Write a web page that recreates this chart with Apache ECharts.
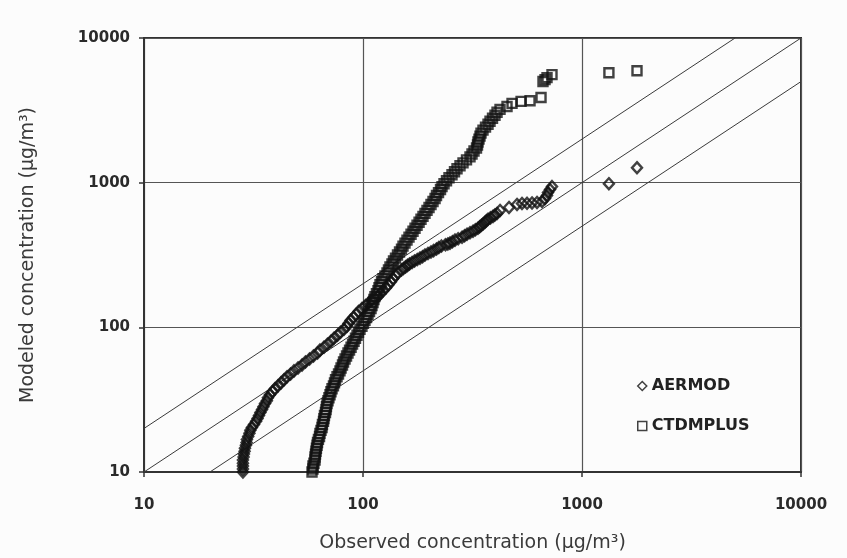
<!DOCTYPE html>
<html>
<head>
<meta charset="utf-8">
<script src="https://cdn.jsdelivr.net/npm/echarts@6/dist/echarts.min.js"></script>
<style>
  html, body { margin: 0; padding: 0; background: #fcfcfc; }
  #chart { width: 847px; height: 558px; }
</style>
</head>
<body>
<div id="chart"></div>
<script>
// Ranked observed vs ranked modeled concentrations (µg/m³), Q-Q style.
const aermod = [
  [28.3,10.0],[28.3,10.5],[28.3,11.0],[28.3,11.5],[28.3,12.1],[28.5,12.7],[28.6,13.3],[28.8,13.9],
  [28.9,14.6],[29.2,15.3],[29.4,16.0],[29.5,16.8],[29.9,17.6],[30.3,18.5],[30.6,19.4],[31.1,20.3],
  [31.8,21.3],[32.5,22.4],[33.0,23.4],[33.5,24.6],[34.0,25.8],[34.6,27.0],[35.1,28.3],[35.7,29.7],
  [36.4,31.1],[36.8,32.6],[37.6,34.2],[38.6,35.9],[39.6,37.6],[40.9,39.4],[42.2,41.3],[43.6,43.4],
  [45.0,45.5],[46.7,47.6],[48.4,50.0],[50.5,52.4],[52.7,54.9],[54.6,57.6],[57.0,60.4],[59.4,63.3],
  [62.0,66.4],[63.6,69.6],[66.3,72.9],[68.8,76.5],[71.4,80.2],[73.7,84.1],[76.5,88.2],[78.9,92.4],
  [81.9,96.9],[84.5,101.6],[85.8,106.5],[87.7,111.7],[90.5,117],[92.9,122.8],[95.4,128.8],[98.9,135],
  [102.7,141.6],[106.5,148.4],[110.5,155.6],[116.5,163],[120.2,171],[123.4,179],[127.4,188],[130.7,197],
  [134.2,206.6],[137.1,216.6],[140.7,227],[144.5,238],[149.9,249.6],[153,255],[156.4,261.7],[159.7,268],
  [163.1,274],[167.5,281],[171.9,287.6],[177,294],[182.1,301],[187,308],[191.9,316],[198,324],
  [204.4,331.5],[210,339],[216.6,347.5],[222,356],[228.2,364.4],[238,372],[244,377],[249.6,382],
  [256,391],[263.1,400.6],[272,409],[283.3,420],[291,430],[298.5,440.5],[308,451],[317.9,461.8],
  [326,472],[335,484],[341,496],[347.6,507.6],[354,520],[360.6,532],[366,545],[372.3,558],
  [382,571],[392.4,585],[400,598],[409.3,613],[422.4,643],[464.2,674],[505,707],[532.1,718],
  [561.1,720],[591.3,724],[623.1,730],[656.8,741],[678,777],[692.3,815],[699.6,854],[714.5,896],
  [729.5,939],[1327,984],[1783,1268]
];

const ctdmplus = [
  [58.5,10.0],[59.1,10.5],[59.1,11.0],[59.7,11.5],[60.4,12.1],[60.4,12.7],[60.7,13.3],[61.0,13.9],
  [61.3,14.6],[61.7,15.3],[62.0,16.0],[62.6,16.8],[63.3,17.6],[63.6,18.5],[64.3,19.4],[65.0,20.3],
  [65.3,21.3],[66.0,22.4],[66.3,23.4],[66.7,24.6],[67.4,25.8],[67.8,27.0],[68.1,28.3],[68.5,29.7],
  [69.2,31.1],[69.9,32.6],[70.7,34.2],[71.4,35.9],[72.2,37.6],[73.3,39.4],[74.1,41.3],[74.9,43.4],
  [76.1,45.5],[77.3,47.6],[78.5,50.0],[79.4,52.4],[80.6,54.9],[81.5,57.6],[82.8,60.4],[84.1,63.3],
  [85.4,66.4],[86.8,69.6],[88.2,72.9],[89.6,76.5],[91.0,80.2],[92.4,84.1],[93.9,88.2],[95.4,92.4],
  [96.9,96.9],[98.9,101.6],[100.5,106.5],[102.1,111.7],[103.8,117],[105.4,122.8],[107.1,128.8],[108.8,135],
  [109.9,141.6],[111.1,148.4],[112.2,155.6],[113.4,163],[115.2,171],[117.1,179],[118.3,188],[119.6,197],
  [121.5,206.6],[123.4,216.6],[126.0,227],[128.7,238],[130.7,249.6],[132.8,261.7],[135.6,274],[137.8,287.6],
  [140.7,301],[143.7,316],[146.8,331.5],[149.9,347.5],[152.3,364.4],[155.5,382],[158.8,400.6],[162.2,420],
  [165.7,440.5],[169.2,461.8],[172.8,484],[176.5,507.6],[180.3,532],[184.0,558],[187.9,585],[191.9,613],
  [196.0,643],[200.2,674],[204.4,707],[208.8,741],[213.3,777],[216.6,815],[221.2,854],[225.9,896],
  [229.5,939],[234.4,984],[240.6,1032],[247.0,1082],[254.9,1135],[261.7,1190],[268.7,1247],[277.3,1308],
  [286.2,1371],[296.9,1438],[308.0,1507],[314.6,1580],[321.3,1657],[329.8,1737],[333.3,1821],[335.0,1909],
  [338.6,2001],[342.2,2099],[345.8,2200],[353.1,2309],[362.6,2420],[372.3,2535],[380.2,2660],[390.3,2789],
  [400.6,2924],[409.3,3064],[422.4,3212],[454.6,3365],[479.2,3532],[527,3648],[579,3680],[650,3882],
  [663.6,5000],[678,5156],[692.3,5321],[729.5,5579],[1327,5754],[1783,5940]
];

// Reference lines: 1:1 and factor-of-two bounds
const lineOneToOne = [[10, 10], [10000, 10000]];
const lineTwiceOver = [[10, 20], [5000, 10000]];
const lineHalfUnder = [[20, 10], [10000, 5000]];

const axisTicks = [10, 100, 1000, 10000];
const tickLabels = ['10', '100', '1000', '10000'];

function tickText(v) {
  const i = axisTicks.findIndex(t => Math.abs(Math.log10(v) - Math.log10(t)) < 1e-6);
  return i >= 0 ? tickLabels[i] : '';
}

const FONT = 'DejaVu Sans';

function logAxis(name, gap, labelMargin) {
  return {
    type: 'log',
    logBase: 10,
    min: 10,
    max: 10000,
    name: name,
    nameLocation: 'middle',
    nameGap: gap,
    nameTextStyle: { fontFamily: FONT, fontSize: 19, color: '#3a3a3a' },
    axisLine: { show: true, lineStyle: { color: '#333', width: 2 } },
    axisTick: { show: true, inside: false, length: 5, lineStyle: { color: '#333', width: 1.5 } },
    axisLabel: {
      formatter: tickText,
      fontFamily: FONT, fontWeight: 'bold', fontSize: 15, color: '#2a2a2a',
      margin: labelMargin
    },
    splitLine: { show: true, lineStyle: { color: '#555', width: 1.2 } },
    minorTick: { show: false },
    minorSplitLine: { show: false }
  };
}

function refLine(data) {
  return {
    type: 'line',
    data: data,
    symbol: 'none',
    silent: true,
    z: 1,
    lineStyle: { color: '#3a3a3a', width: 1 },
    legendHoverLink: false
  };
}

const chart = echarts.init(document.getElementById('chart'), null, { renderer: 'canvas' });

chart.setOption({
  backgroundColor: '#fcfcfc',
  animation: false,
  grid: {
    left: 144, right: 46, top: 38, bottom: 82,
    show: true, borderColor: '#333', borderWidth: 2, backgroundColor: 'transparent'
  },
  xAxis: logAxis('Observed concentration (μg/m³)', 62, 26),
  yAxis: logAxis('Modeled concentration (μg/m³)', 106, 14),
  legend: {
    orient: 'vertical',
    left: 632,
    top: 373,
    itemGap: 24,
    itemWidth: 9,
    itemHeight: 9,
    data: ['AERMOD', 'CTDMPLUS'],
    itemStyle: { borderWidth: 1.5 },
    textStyle: { fontFamily: FONT, fontWeight: 'bold', fontSize: 16, color: '#222' }
  },
  series: [
    refLine(lineOneToOne),
    refLine(lineTwiceOver),
    refLine(lineHalfUnder),
    {
      name: 'AERMOD',
      type: 'scatter',
      data: aermod,
      symbol: 'diamond',
      symbolSize: [10, 11],
      z: 3,
      itemStyle: { color: 'rgba(0,0,0,0)', borderColor: '#111', borderWidth: 2.4 }
    },
    {
      name: 'CTDMPLUS',
      type: 'scatter',
      data: ctdmplus,
      symbol: 'rect',
      symbolSize: 9,
      z: 3,
      itemStyle: { color: 'rgba(0,0,0,0)', borderColor: '#111', borderWidth: 2.4 }
    }
  ]
});
</script>
</body>
</html>
